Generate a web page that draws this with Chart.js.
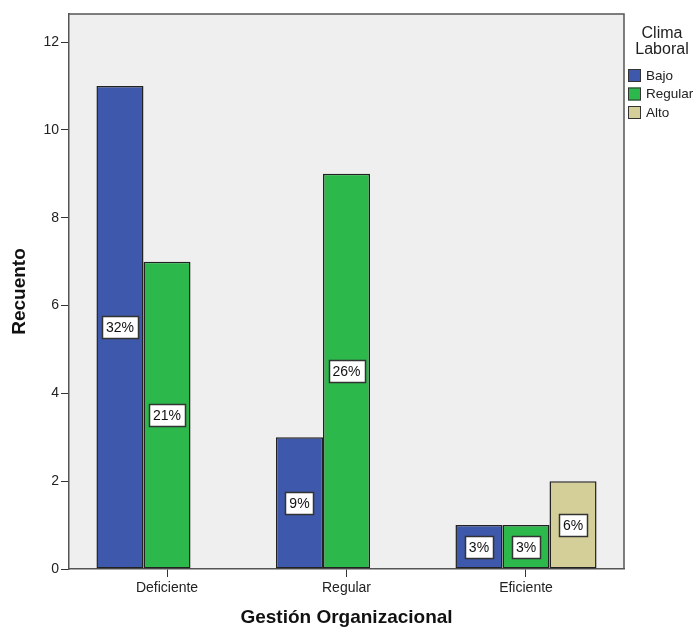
<!DOCTYPE html>
<html>
<head>
<meta charset="utf-8">
<script src="https://cdn.jsdelivr.net/npm/chart.js@4.4.1/dist/chart.umd.min.js"></script>
<style>
  html, body { margin: 0; padding: 0; background: #fff; }
  #wrap { width: 696px; height: 630px; }
</style>
</head>
<body>
<div id="wrap"><canvas id="barchart" width="696" height="630"></canvas></div>
<script>
const categories = ["Deficiente", "Regular", "Eficiente"];
const seriesNames = ["Bajo", "Regular", "Alto"];
const bajo = [11, 3, 1];
const regular = [7, 9, 1];
const alto = [null, null, 2];
const yTicks = [0, 2, 4, 6, 8, 10, 12];

const colors = ["#3e58ab", "#2db84c", "#d4cf99"];
const font = "Arial, 'Liberation Sans', sans-serif";

const allValues = [bajo, regular, alto];
const total = allValues.flat().reduce((sum, v) => sum + (v || 0), 0);

function toPoints(values) {
  return values.map((v, i) => ({ x: i, y: v }));
}

// grey plot background plus the top and right frame lines
const plotFrame = {
  id: "plotFrame",
  beforeDraw(chart) {
    const { ctx, chartArea: a } = chart;
    ctx.save();
    ctx.fillStyle = "#efefef";
    ctx.fillRect(a.left, a.top, a.right - a.left, a.bottom - a.top);
    ctx.strokeStyle = "#555";
    ctx.lineWidth = 1.5;
    ctx.beginPath();
    ctx.moveTo(a.left, a.top);
    ctx.lineTo(a.right, a.top);
    ctx.lineTo(a.right, a.bottom);
    ctx.stroke();
    ctx.restore();
  }
};

// percentage boxes in the middle of each bar
const percentLabels = {
  id: "percentLabels",
  afterDatasetsDraw(chart) {
    const { ctx } = chart;
    ctx.save();
    ctx.font = "14px " + font;
    ctx.textAlign = "center";
    ctx.textBaseline = "middle";
    chart.data.datasets.forEach((ds, di) => {
      const meta = chart.getDatasetMeta(di);
      meta.data.forEach((bar, i) => {
        const v = ds.data[i].y;
        if (v == null) return;
        const text = Math.round(v / total * 100) + "%";
        const cy = (bar.y + bar.base) / 2;
        const w = Math.round(ctx.measureText(text).width) + 8;
        const h = 22;
        const x0 = Math.round(bar.x - w / 2) + 0.5;
        const y0 = Math.round(cy - h / 2) + 0.5;
        ctx.fillStyle = "#fff";
        ctx.fillRect(x0, y0, w, h);
        ctx.strokeStyle = "#333";
        ctx.lineWidth = 1.5;
        ctx.strokeRect(x0, y0, w, h);
        ctx.fillStyle = "#111";
        ctx.fillText(text, bar.x, cy + 1);
      });
    });
    ctx.restore();
  }
};

// legend with two-line title at the right
const sideLegend = {
  id: "sideLegend",
  afterDraw(chart) {
    const { ctx, chartArea: a } = chart;
    const cx = a.right + 38;
    ctx.save();
    ctx.fillStyle = "#222";
    ctx.font = "16px " + font;
    ctx.textAlign = "center";
    ctx.textBaseline = "middle";
    ctx.fillText("Clima", cx, a.top + 20);
    ctx.fillText("Laboral", cx, a.top + 36);
    ctx.font = "13.5px " + font;
    ctx.textAlign = "left";
    chart.data.datasets.forEach((ds, i) => {
      const y = a.top + 55 + i * 18.5;
      ctx.fillStyle = ds.backgroundColor;
      ctx.fillRect(a.right + 4, y, 13, 13);
      ctx.strokeStyle = "#333";
      ctx.lineWidth = 1;
      ctx.strokeRect(a.right + 4.5, y + 0.5, 12, 12);
      ctx.fillStyle = "#222";
      ctx.fillText(ds.label, a.right + 22, y + 7);
    });
    ctx.restore();
  }
};

new Chart(document.getElementById("barchart"), {
  type: "bar",
  data: {
    datasets: allValues.map((values, i) => ({
      label: seriesNames[i],
      data: toPoints(values),
      backgroundColor: colors[i],
      borderColor: "#222",
      borderWidth: 1.5,
      borderSkipped: false,
      categoryPercentage: 0.786,
      barPercentage: 1
    }))
  },
  plugins: [plotFrame, percentLabels, sideLegend],
  options: {
    responsive: false,
    animation: false,
    layout: { padding: { top: 14, right: 72, left: 0, bottom: 0 } },
    plugins: {
      legend: { display: false },
      tooltip: { enabled: false }
    },
    scales: {
      x: {
        type: "linear",
        offset: false,
        min: -0.546,
        max: 2.546,
        afterBuildTicks(scale) {
          scale.ticks = categories.map((c, i) => ({ value: i }));
        },
        afterFit(scale) { scale.height = 61; },
        grid: { offset: false, drawOnChartArea: false, drawTicks: true, tickLength: 8, color: "#333" },
        border: { display: true, color: "#555", width: 1.5 },
        ticks: {
          color: "#222",
          font: { family: font, size: 14 },
          padding: 3,
          callback: (v) => categories[v]
        },
        title: {
          display: true,
          text: "Gestión Organizacional",
          color: "#111",
          font: { family: font, size: 19, weight: "bold" },
          padding: { top: 0, bottom: 1 }
        }
      },
      y: {
        min: 0,
        max: 12.64,
        afterBuildTicks(scale) {
          scale.ticks = yTicks.map((v) => ({ value: v }));
        },
        afterFit(scale) { scale.width = 69; },
        grid: { drawOnChartArea: false, drawTicks: true, tickLength: 8, color: "#333" },
        border: { display: true, color: "#555", width: 1.5 },
        ticks: {
          color: "#222",
          font: { family: font, size: 14 },
          padding: 2
        },
        title: {
          display: true,
          text: "Recuento",
          color: "#111",
          font: { family: font, size: 19, weight: "bold" },
          padding: { top: 8, bottom: 0 }
        }
      }
    }
  }
});
</script>
</body>
</html>
